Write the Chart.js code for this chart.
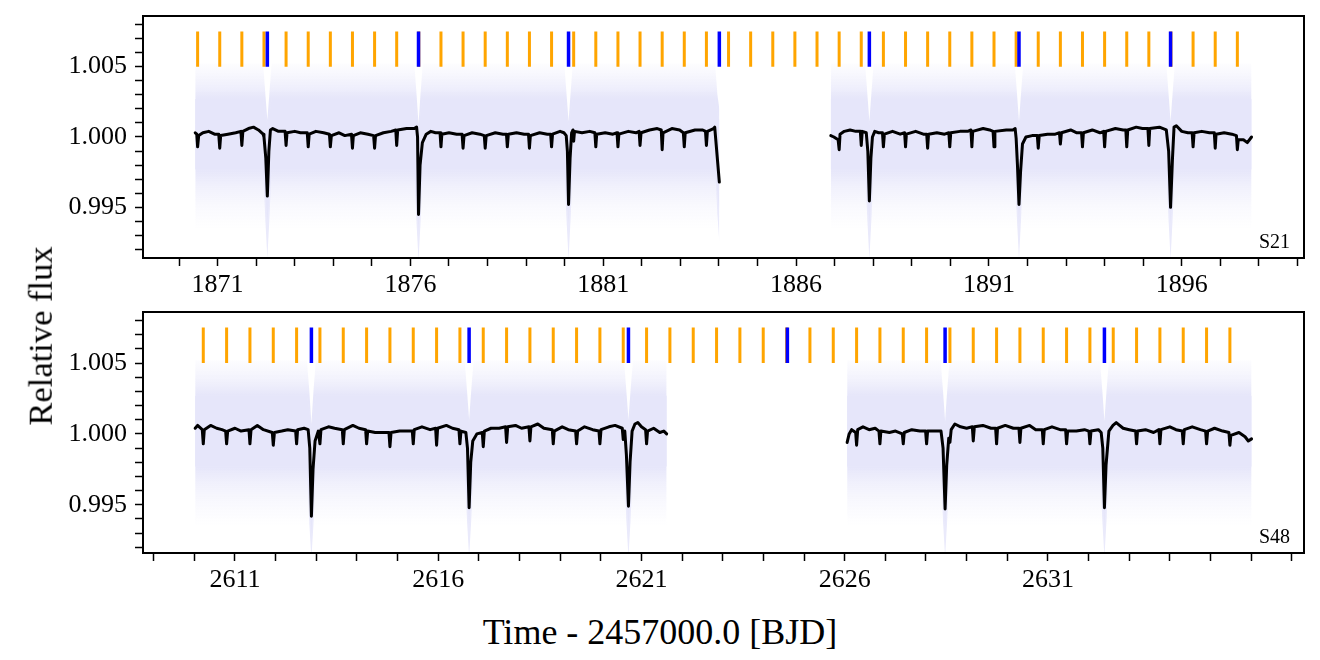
<!DOCTYPE html>
<html>
<head>
<meta charset="utf-8">
<script src="https://cdn.jsdelivr.net/npm/chart.js@4.4.1/dist/chart.umd.min.js"></script>
<style>
  body { margin: 0; background: #fff; width: 1320px; height: 660px; overflow: hidden; position: relative; font-family: "Liberation Serif", serif; }
  .panel { position: absolute; left: 0; width: 1320px; height: 300px; }
  #yTitle { position: absolute; left: 40px; top: 336px; font-size: 34.5px; line-height: 1; white-space: nowrap; transform: translate(-50%, -50%) rotate(-90deg); }
  #xTitle { position: absolute; left: 660px; top: 632px; font-size: 36px; line-height: 1; white-space: nowrap; transform: translate(-50%, -50%); }
</style>
</head>
<body>
<div class="panel" style="top:0"><canvas id="chartS21" width="1320" height="300"></canvas></div>
<div class="panel" style="top:296px"><canvas id="chartS48" width="1320" height="300"></canvas></div>
<div id="yTitle">Relative flux</div>
<div id="xTitle">Time - 2457000.0 [BJD]</div>
<script>
// ---- axes ----
const xTicksS21 = [1870,1871,1872,1873,1874,1875,1876,1877,1878,1879,1880,1881,1882,1883,1884,1885,1886,1887,1888,1889,1890,1891,1892,1893,1894,1895,1896,1897,1898,1899];
const xLabelsS21 = [1871, 1876, 1881, 1886, 1891, 1896];
const xTicksS48 = [2609,2610,2611,2612,2613,2614,2615,2616,2617,2618,2619,2620,2621,2622,2623,2624,2625,2626,2627,2628,2629,2630,2631,2632,2633,2634,2635,2636,2637];
const xLabelsS48 = [2611, 2616, 2621, 2626, 2631];
const yTicks = [0.992,0.993,0.994,0.995,0.996,0.997,0.998,0.999,1.000,1.001,1.002,1.003,1.004,1.005,1.006,1.007,1.008];
const yLabels = [0.995, 1.000, 1.005];

// ---- transit marks ----
const markLow = 1.005, markHigh = 1.0075;
const orangeS21 = [1870.482,1871.056,1871.629,1872.203,1872.776,1873.350,1873.924,1874.497,1875.071,1875.644,1876.218,1876.792,1877.365,1877.939,1878.513,1879.086,1879.660,1880.233,1880.807,1881.381,1881.954,1882.528,1883.101,1883.675,1884.249,1884.822,1885.396,1885.969,1886.543,1887.117,1887.690,1888.264,1888.838,1889.411,1889.985,1890.558,1891.132,1891.706,1892.279,1892.853,1893.426,1894.000,1894.574,1895.147,1895.721,1896.294,1896.868,1897.442];
const blueS21 = [1872.29, 1876.21, 1880.10, 1884.01, 1887.90, 1891.78, 1895.71];
const orangeS48 = [2610.220,2610.794,2611.368,2611.942,2612.516,2613.090,2613.664,2614.238,2614.812,2615.386,2615.960,2616.534,2617.108,2617.682,2618.256,2618.830,2619.404,2619.978,2620.552,2621.126,2621.700,2622.274,2622.848,2623.422,2623.996,2624.571,2625.145,2625.719,2626.293,2626.867,2627.441,2628.015,2628.589,2629.163,2629.737,2630.311,2630.885,2631.459,2632.033,2632.607,2633.181,2633.755,2634.329,2634.903,2635.477];
const blueS48 = [2612.88, 2616.76, 2620.68, 2624.59, 2628.47, 2632.39];

// ---- data scatter envelope: [time, haloLo, tailLo, coreLo, coreHi, tailHi, haloHi] ----
const bandS21a = [
  [1870.42, 0.9935, 0.9977, 0.9977, 1.0027, 1.0027, 1.0052],
  [1872.18, 0.9935, 0.9977, 0.9977, 1.0027, 1.0027, 1.0052],
  [1872.24, 0.9930, 0.9940, 0.9958, 1.0016, 1.0016, 1.0030],
  [1872.29, 0.9914, 0.9914, 0.9940, 1.0009, 1.0009, 1.0012],
  [1872.34, 0.9930, 0.9940, 0.9958, 1.0016, 1.0016, 1.0030],
  [1872.40, 0.9935, 0.9977, 0.9977, 1.0027, 1.0027, 1.0052],
  [1876.10, 0.9935, 0.9977, 0.9977, 1.0027, 1.0027, 1.0052],
  [1876.16, 0.9930, 0.9938, 0.9956, 1.0016, 1.0016, 1.0030],
  [1876.21, 0.9912, 0.9912, 0.9933, 1.0006, 1.0006, 1.0009],
  [1876.26, 0.9930, 0.9938, 0.9956, 1.0016, 1.0016, 1.0030],
  [1876.32, 0.9935, 0.9977, 0.9977, 1.0027, 1.0027, 1.0052],
  [1879.99, 0.9935, 0.9977, 0.9977, 1.0027, 1.0027, 1.0052],
  [1880.05, 0.9930, 0.9940, 0.9958, 1.0016, 1.0016, 1.0030],
  [1880.10, 0.9913, 0.9913, 0.9938, 1.0008, 1.0008, 1.0011],
  [1880.15, 0.9930, 0.9940, 0.9958, 1.0016, 1.0016, 1.0030],
  [1880.21, 0.9935, 0.9977, 0.9977, 1.0027, 1.0027, 1.0052],
  [1883.90, 0.9935, 0.9977, 0.9977, 1.0027, 1.0027, 1.0052],
  [1883.96, 0.9930, 0.9945, 0.9960, 1.0016, 1.0016, 1.0030],
  [1884.01, 0.9922, 0.9925, 0.9948, 1.0012, 1.0012, 1.0020]
];
const bandS21b = [
  [1886.90, 0.9935, 0.9977, 0.9977, 1.0027, 1.0027, 1.0052],
  [1887.79, 0.9935, 0.9977, 0.9977, 1.0027, 1.0027, 1.0052],
  [1887.85, 0.9930, 0.9940, 0.9958, 1.0016, 1.0016, 1.0030],
  [1887.90, 0.9913, 0.9913, 0.9938, 1.0008, 1.0008, 1.0011],
  [1887.95, 0.9930, 0.9940, 0.9958, 1.0016, 1.0016, 1.0030],
  [1888.01, 0.9935, 0.9977, 0.9977, 1.0027, 1.0027, 1.0052],
  [1891.67, 0.9935, 0.9977, 0.9977, 1.0027, 1.0027, 1.0052],
  [1891.73, 0.9930, 0.9940, 0.9958, 1.0016, 1.0016, 1.0030],
  [1891.78, 0.9913, 0.9913, 0.9938, 1.0008, 1.0008, 1.0011],
  [1891.83, 0.9930, 0.9940, 0.9958, 1.0016, 1.0016, 1.0030],
  [1891.89, 0.9935, 0.9977, 0.9977, 1.0027, 1.0027, 1.0052],
  [1895.60, 0.9935, 0.9977, 0.9977, 1.0027, 1.0027, 1.0052],
  [1895.66, 0.9930, 0.9940, 0.9958, 1.0016, 1.0016, 1.0030],
  [1895.71, 0.9913, 0.9913, 0.9938, 1.0008, 1.0008, 1.0011],
  [1895.76, 0.9930, 0.9940, 0.9958, 1.0016, 1.0016, 1.0030],
  [1895.82, 0.9935, 0.9977, 0.9977, 1.0027, 1.0027, 1.0052],
  [1897.81, 0.9935, 0.9977, 0.9977, 1.0027, 1.0027, 1.0052]
];
const bandS48a = [
  [2610.02, 0.9935, 0.9977, 0.9977, 1.0027, 1.0027, 1.0052],
  [2612.77, 0.9935, 0.9977, 0.9977, 1.0027, 1.0027, 1.0052],
  [2612.83, 0.9930, 0.9936, 0.9955, 1.0016, 1.0016, 1.0030],
  [2612.88, 0.9912, 0.9912, 0.9930, 1.0004, 1.0004, 1.0007],
  [2612.93, 0.9930, 0.9936, 0.9955, 1.0016, 1.0016, 1.0030],
  [2612.99, 0.9935, 0.9977, 0.9977, 1.0027, 1.0027, 1.0052],
  [2616.65, 0.9935, 0.9977, 0.9977, 1.0027, 1.0027, 1.0052],
  [2616.71, 0.9930, 0.9938, 0.9956, 1.0016, 1.0016, 1.0030],
  [2616.76, 0.9913, 0.9913, 0.9935, 1.0007, 1.0007, 1.0010],
  [2616.81, 0.9930, 0.9938, 0.9956, 1.0016, 1.0016, 1.0030],
  [2616.87, 0.9935, 0.9977, 0.9977, 1.0027, 1.0027, 1.0052],
  [2620.57, 0.9935, 0.9977, 0.9977, 1.0027, 1.0027, 1.0052],
  [2620.63, 0.9930, 0.9938, 0.9956, 1.0016, 1.0016, 1.0030],
  [2620.68, 0.9913, 0.9913, 0.9935, 1.0007, 1.0007, 1.0010],
  [2620.73, 0.9930, 0.9938, 0.9956, 1.0016, 1.0016, 1.0030],
  [2620.79, 0.9935, 0.9977, 0.9977, 1.0027, 1.0027, 1.0052],
  [2621.62, 0.9935, 0.9977, 0.9977, 1.0027, 1.0027, 1.0052]
];
const bandS48b = [
  [2626.06, 0.9935, 0.9977, 0.9977, 1.0027, 1.0027, 1.0052],
  [2628.36, 0.9935, 0.9977, 0.9977, 1.0027, 1.0027, 1.0052],
  [2628.42, 0.9930, 0.9938, 0.9956, 1.0016, 1.0016, 1.0030],
  [2628.47, 0.9913, 0.9913, 0.9934, 1.0006, 1.0006, 1.0009],
  [2628.52, 0.9930, 0.9938, 0.9956, 1.0016, 1.0016, 1.0030],
  [2628.58, 0.9935, 0.9977, 0.9977, 1.0027, 1.0027, 1.0052],
  [2632.28, 0.9935, 0.9977, 0.9977, 1.0027, 1.0027, 1.0052],
  [2632.34, 0.9930, 0.9938, 0.9956, 1.0016, 1.0016, 1.0030],
  [2632.39, 0.9913, 0.9913, 0.9934, 1.0006, 1.0006, 1.0009],
  [2632.44, 0.9930, 0.9938, 0.9956, 1.0016, 1.0016, 1.0030],
  [2632.50, 0.9935, 0.9977, 0.9977, 1.0027, 1.0027, 1.0052],
  [2636.01, 0.9935, 0.9977, 0.9977, 1.0027, 1.0027, 1.0052]
];
// halo fade: [flux, opacity of lavender]
const haloStops = [[1.0055, 0], [1.0046, 0.25], [1.0036, 0.6], [1.0027, 1], [0.9977, 1], [0.9966, 0.6], [0.9952, 0.25], [0.9935, 0]];

// ---- model (black line): [time, flux] ----
const modelS21a = [
  [1870.42,1.0003],[1870.46,1.0002],[1870.482,0.9993],[1870.51,1.0001],[1870.62,1.0003],[1870.77,1.0004],[1870.92,1.0002],
  [1871.03,1.0002],[1871.056,0.9992],[1871.08,1.0001],[1871.27,1.0002],[1871.47,1.0003],[1871.605,1.0004],[1871.629,0.9994],
  [1871.655,1.0004],[1871.80,1.0006],[1871.93,1.0007],[1872.06,1.0005],[1872.18,1.0002],[1872.203,1.0000],[1872.25,0.9985],
  [1872.29,0.9958],[1872.33,0.9990],[1872.37,1.0005],[1872.43,1.0006],[1872.58,1.0004],[1872.75,1.0004],[1872.776,0.9994],
  [1872.80,1.0003],[1873.00,1.0004],[1873.15,1.0003],[1873.325,1.0003],[1873.350,0.9993],[1873.375,1.0002],[1873.55,1.0004],
  [1873.75,1.0003],[1873.90,1.0002],[1873.924,0.9993],[1873.95,1.0001],[1874.15,1.0003],[1874.30,1.0001],[1874.472,1.0002],
  [1874.497,0.9992],[1874.52,1.0001],[1874.70,1.0003],[1874.90,1.0002],[1875.046,1.0001],[1875.071,0.9992],[1875.095,1.0001],
  [1875.30,1.0003],[1875.50,1.0004],[1875.62,1.0005],[1875.644,0.9994],[1875.67,1.0005],[1875.90,1.0006],[1876.10,1.0006],
  [1876.16,1.0007],[1876.185,1.0000],[1876.21,0.9945],[1876.25,0.9980],[1876.31,0.9996],[1876.41,1.0002],[1876.53,1.0004],
  [1876.65,1.0003],[1876.768,1.0003],[1876.792,0.9993],[1876.815,1.0002],[1877.00,1.0003],[1877.20,1.0002],[1877.34,1.0002],
  [1877.365,0.9992],[1877.39,1.0001],[1877.60,1.0003],[1877.80,1.0002],[1877.915,1.0001],[1877.939,0.9992],[1877.965,1.0001],
  [1878.20,1.0003],[1878.40,1.0002],[1878.49,1.0002],[1878.513,0.9993],[1878.54,1.0002],[1878.75,1.0003],[1878.95,1.0002],
  [1879.062,1.0002],[1879.086,0.9992],[1879.11,1.0001],[1879.35,1.0003],[1879.55,1.0002],[1879.636,1.0002],[1879.660,0.9993],
  [1879.685,1.0002],[1879.88,1.0004],[1879.98,1.0003],[1880.04,1.0001],[1880.07,0.9990],[1880.10,0.9952],[1880.14,0.9985],
  [1880.18,1.0003],[1880.215,1.0005],[1880.233,0.9997],[1880.255,1.0004],[1880.45,1.0003],[1880.65,1.0004],[1880.783,1.0003],
  [1880.807,0.9993],[1880.83,1.0002],[1881.05,1.0003],[1881.25,1.0002],[1881.357,1.0003],[1881.381,0.9993],[1881.405,1.0002],
  [1881.65,1.0004],[1881.85,1.0003],[1881.93,1.0004],[1881.954,0.9994],[1881.98,1.0003],[1882.20,1.0005],[1882.40,1.0006],
  [1882.504,1.0005],[1882.528,0.9991],[1882.55,1.0003],[1882.78,1.0006],[1882.98,1.0005],[1883.077,1.0003],[1883.101,0.9993],
  [1883.125,1.0003],[1883.38,1.0005],[1883.58,1.0005],[1883.651,1.0004],[1883.675,0.9994],[1883.70,1.0004],[1883.86,1.0006],
  [1883.89,1.0007],[1884.01,0.9968]
];
const modelS21b = [
  [1886.90,1.0001],[1886.98,1.0000],[1887.09,0.9998],[1887.117,0.9991],[1887.14,1.0002],[1887.25,1.0004],[1887.40,1.0005],
  [1887.55,1.0004],[1887.666,1.0004],[1887.690,0.9994],[1887.715,1.0004],[1887.82,1.0003],[1887.86,0.9990],[1887.90,0.99545],
  [1887.94,0.9985],[1887.98,1.0000],[1888.04,1.0004],[1888.14,1.0003],[1888.24,1.0003],[1888.264,0.9993],[1888.29,1.0002],
  [1888.50,1.0004],[1888.70,1.0002],[1888.814,1.0003],[1888.838,0.9993],[1888.86,1.0002],[1889.10,1.0004],[1889.30,1.0002],
  [1889.387,1.0002],[1889.411,0.9992],[1889.435,1.0002],[1889.65,1.0003],[1889.85,1.0002],[1889.961,1.0003],[1889.985,0.9993],
  [1890.01,1.0003],[1890.25,1.0004],[1890.45,1.0004],[1890.534,1.0005],[1890.558,0.9993],[1890.58,1.0004],[1890.85,1.0006],
  [1891.02,1.0005],[1891.108,1.0004],[1891.132,0.9993],[1891.155,1.0004],[1891.45,1.0005],[1891.62,1.0005],[1891.68,1.0006],
  [1891.706,0.9999],[1891.74,0.9980],[1891.78,0.9952],[1891.82,0.9975],[1891.87,0.9995],[1891.96,1.0000],[1892.12,1.0001],
  [1892.255,1.0001],[1892.279,0.9992],[1892.305,1.0001],[1892.52,1.0002],[1892.72,1.0002],[1892.829,1.0003],[1892.853,0.9995],
  [1892.88,1.0003],[1893.12,1.0005],[1893.28,1.0003],[1893.402,1.0003],[1893.426,0.9993],[1893.45,1.0003],[1893.68,1.0005],
  [1893.88,1.0003],[1893.976,1.0004],[1894.000,0.9993],[1894.025,1.0004],[1894.28,1.0006],[1894.48,1.0005],[1894.55,1.0005],
  [1894.574,0.9993],[1894.60,1.0005],[1894.82,1.0007],[1894.98,1.0006],[1895.123,1.0006],[1895.147,0.9994],[1895.17,1.0006],
  [1895.42,1.0007],[1895.60,1.0005],[1895.66,0.9990],[1895.71,0.9950],[1895.76,0.9985],[1895.80,1.0007],[1895.86,1.0008],
  [1896.00,1.0004],[1896.16,1.0003],[1896.27,1.0003],[1896.294,0.9993],[1896.32,1.0003],[1896.52,1.0004],[1896.72,1.0003],
  [1896.844,1.0003],[1896.868,0.9992],[1896.89,1.0002],[1897.10,1.0003],[1897.30,1.0002],[1897.418,1.0001],[1897.442,0.9991],
  [1897.465,0.9998],[1897.60,0.9998],[1897.70,0.9996],[1897.81,1.0000]
];
const modelS48a = [
  [2610.02,1.0004],[2610.08,1.0006],[2610.195,1.0003],[2610.220,0.9993],[2610.245,1.0003],[2610.40,1.0006],[2610.55,1.0004],
  [2610.68,1.0003],[2610.77,1.0002],[2610.794,0.9993],[2610.82,1.0002],[2611.00,1.0004],[2611.15,1.0002],[2611.344,1.0003],
  [2611.368,0.9993],[2611.395,1.0003],[2611.55,1.0006],[2611.70,1.0003],[2611.918,1.0001],[2611.942,0.9992],[2611.97,1.0001],
  [2612.15,1.0002],[2612.30,1.0003],[2612.492,1.0002],[2612.516,0.9993],[2612.54,1.0003],[2612.70,1.0004],[2612.80,1.0003],
  [2612.84,0.9990],[2612.88,0.9942],[2612.92,0.9975],[2612.97,0.9995],[2613.05,1.0002],[2613.090,0.9993],[2613.115,1.0003],
  [2613.30,1.0005],[2613.45,1.0004],[2613.64,1.0003],[2613.664,0.9993],[2613.69,1.0003],[2613.90,1.0006],[2614.05,1.0004],
  [2614.214,1.0003],[2614.238,0.9993],[2614.265,1.0002],[2614.45,1.0001],[2614.65,1.0001],[2614.788,1.0001],[2614.812,0.9991],
  [2614.84,1.0001],[2615.05,1.0002],[2615.20,1.0002],[2615.362,1.0002],[2615.386,0.9993],[2615.41,1.0003],[2615.60,1.0005],
  [2615.80,1.0003],[2615.936,1.0004],[2615.960,0.9992],[2615.985,1.0004],[2616.20,1.0006],[2616.35,1.0004],[2616.51,1.0003],
  [2616.534,0.9993],[2616.56,1.0002],[2616.68,1.0001],[2616.72,0.9990],[2616.76,0.9948],[2616.80,0.9980],[2616.85,0.9995],
  [2616.95,1.0000],[2617.084,1.0001],[2617.108,0.9991],[2617.135,1.0002],[2617.30,1.0004],[2617.50,1.0004],[2617.658,1.0005],
  [2617.682,0.9994],[2617.71,1.0005],[2617.90,1.0006],[2618.05,1.0004],[2618.232,1.0005],[2618.256,0.9995],[2618.28,1.0005],
  [2618.45,1.0007],[2618.60,1.0004],[2618.806,1.0003],[2618.830,0.9993],[2618.855,1.0002],[2619.05,1.0005],[2619.20,1.0003],
  [2619.38,1.0002],[2619.404,0.9993],[2619.43,1.0002],[2619.60,1.0005],[2619.80,1.0003],[2619.954,1.0002],[2619.978,0.9993],
  [2620.005,1.0003],[2620.20,1.0005],[2620.35,1.0006],[2620.528,1.0004],[2620.552,0.9996],[2620.59,1.0002],[2620.63,0.9985],
  [2620.68,0.9949],[2620.72,0.9980],[2620.77,1.0002],[2620.84,1.0007],[2620.91,1.0008],[2621.00,1.0005],[2621.102,1.0003],
  [2621.126,0.9993],[2621.15,1.0002],[2621.30,1.0004],[2621.45,1.0001],[2621.55,1.0002],[2621.62,1.0000]
];
const modelS48b = [
  [2626.06,0.9994],[2626.11,1.0000],[2626.17,1.0003],[2626.27,1.0001],[2626.293,0.9992],[2626.32,1.0003],[2626.45,1.0005],
  [2626.60,1.0003],[2626.75,1.0004],[2626.843,1.0002],[2626.867,0.9993],[2626.89,1.0002],[2627.10,1.0001],[2627.25,1.0002],
  [2627.417,1.0000],[2627.441,0.9993],[2627.465,1.0001],[2627.65,1.0003],[2627.85,1.0002],[2627.99,1.0002],[2628.015,0.9993],
  [2628.04,1.0002],[2628.24,1.0002],[2628.37,1.0002],[2628.42,0.9990],[2628.47,0.9947],[2628.51,0.9978],[2628.56,0.9997],
  [2628.589,0.9994],[2628.62,1.0003],[2628.71,1.0007],[2628.85,1.0005],[2629.00,1.0004],[2629.14,1.0005],[2629.163,0.9995],
  [2629.19,1.0005],[2629.40,1.0006],[2629.60,1.0004],[2629.713,1.0004],[2629.737,0.9993],[2629.76,1.0004],[2629.95,1.0006],
  [2630.15,1.0004],[2630.287,1.0004],[2630.311,0.9994],[2630.335,1.0004],[2630.55,1.0006],[2630.70,1.0003],[2630.861,1.0003],
  [2630.885,0.9993],[2630.91,1.0003],[2631.10,1.0005],[2631.30,1.0003],[2631.435,1.0003],[2631.459,0.9993],[2631.485,1.0002],
  [2631.70,1.0002],[2631.90,1.0003],[2632.009,1.0002],[2632.033,0.9993],[2632.06,1.0002],[2632.24,1.0003],[2632.31,1.0001],
  [2632.35,0.9990],[2632.39,0.9948],[2632.43,0.9978],[2632.50,1.0002],[2632.60,1.0006],[2632.68,1.0008],[2632.85,1.0004],
  [2633.00,1.0003],[2633.157,1.0002],[2633.181,0.9993],[2633.205,1.0002],[2633.40,1.0003],[2633.60,1.0001],[2633.731,1.0003],
  [2633.755,0.9993],[2633.78,1.0003],[2634.00,1.0005],[2634.15,1.0003],[2634.305,1.0002],[2634.329,0.9993],[2634.355,1.0003],
  [2634.55,1.0005],[2634.75,1.0003],[2634.879,1.0002],[2634.903,0.9993],[2634.93,1.0002],[2635.10,1.0004],[2635.30,1.0002],
  [2635.453,1.0001],[2635.477,0.9992],[2635.50,0.9999],[2635.70,1.0001],[2635.85,0.9998],[2635.93,0.9995],[2636.01,0.99965]
];

const FONT = '"Liberation Serif", "Times New Roman", serif';
const LAV = [230, 230, 250];

// box round the plot area + sector name in the corner
const framePlugin = {
  id: 'frame',
  afterDraw(chart, args, opts) {
    const { ctx, chartArea: a } = chart;
    ctx.save();
    ctx.strokeStyle = '#000';
    ctx.lineWidth = 2;
    ctx.strokeRect(a.left, a.top, a.right - a.left, a.bottom - a.top);
    ctx.fillStyle = '#000';
    ctx.font = '20px ' + FONT;
    ctx.textAlign = 'right';
    ctx.textBaseline = 'alphabetic';
    ctx.fillText(opts.text, a.right - 14, a.bottom - 10);
    ctx.restore();
  }
};

function haloFill(c) {
  const ch = c.chart;
  if (!ch.chartArea) return 'rgb(230,230,250)';
  const y = ch.scales.y;
  const top = y.getPixelForValue(haloStops[0][0]);
  const bot = y.getPixelForValue(haloStops[haloStops.length - 1][0]);
  const g = ch.ctx.createLinearGradient(0, top, 0, bot);
  haloStops.forEach(([v, a]) => {
    g.addColorStop((y.getPixelForValue(v) - top) / (bot - top), `rgba(${LAV[0]},${LAV[1]},${LAV[2]},${a})`);
  });
  return g;
}

function bandSets(rows) {
  const out = [];
  const layers = [[1, 6, haloFill, 5], [2, 5, 'rgb(234,234,251)', 4], [3, 4, 'rgb(230,230,250)', 3]];
  layers.forEach(([lo, hi, color, order]) => {
    out.push({ data: rows.map(r => ({ x: r[0], y: r[hi] })), fill: '+1', backgroundColor: color,
      borderColor: 'rgba(0,0,0,0)', borderWidth: 0, pointRadius: 0, order });
    out.push({ data: rows.map(r => ({ x: r[0], y: r[lo] })), fill: false,
      borderColor: 'rgba(0,0,0,0)', borderWidth: 0, pointRadius: 0, order });
  });
  return out;
}

function markSet(times, color, width, order) {
  const d = [];
  times.forEach(t => d.push({ x: t, y: markLow }, { x: t, y: markHigh }, { x: t, y: null }));
  return { data: d, borderColor: color, borderWidth: width, pointRadius: 0, fill: false, spanGaps: false, order, borderCapStyle: 'butt' };
}

function modelSet(pts) {
  return { data: pts.map(p => ({ x: p[0], y: p[1] })), borderColor: '#000', borderWidth: 3,
    pointRadius: 0, fill: false, tension: 0, order: 0, borderJoinStyle: 'round', borderCapStyle: 'round' };
}

function makePanel(id, cfg) {
  const datasets = [];
  cfg.bands.forEach(b => datasets.push(...bandSets(b)));
  datasets.push(markSet(cfg.orange, '#ffa500', 3, 2));
  datasets.push(markSet(cfg.blue, '#0000ff', 3.5, 1));
  cfg.models.forEach(m => datasets.push(modelSet(m)));

  return new Chart(document.getElementById(id), {
    type: 'line',
    data: { datasets },
    plugins: [framePlugin],
    options: {
      responsive: false,
      animation: false,
      layout: { padding: { top: cfg.padTop, right: 16, left: 0, bottom: 0 } },
      plugins: { legend: { display: false }, tooltip: { enabled: false }, frame: { text: cfg.sector } },
      scales: {
        x: {
          type: 'linear', min: cfg.xMin, max: cfg.xMax,
          border: { display: false },
          grid: { display: true, drawOnChartArea: false, drawTicks: true, tickLength: 8, tickWidth: 1.5, tickColor: '#000' },
          ticks: { autoSkip: false, maxRotation: 0, padding: 4, color: '#000', font: { family: FONT, size: 26 },
            callback: v => cfg.xLabels.includes(v) ? String(v) : '' },
          afterBuildTicks: s => { s.ticks = cfg.xTicks.map(v => ({ value: v })); },
          afterFit: s => { s.height = cfg.xAxisHeight; s.paddingLeft = 0; s.paddingRight = 0; }
        },
        y: {
          type: 'linear', min: cfg.yMin, max: cfg.yMax,
          border: { display: false },
          grid: { display: true, drawOnChartArea: false, drawTicks: true, tickLength: 8, tickWidth: 1.5, tickColor: '#000' },
          ticks: { autoSkip: false, padding: 8, color: '#000', font: { family: FONT, size: 26 },
            callback: v => yLabels.some(l => Math.abs(l - v) < 1e-7) ? v.toFixed(3) : '' },
          afterBuildTicks: s => { s.ticks = yTicks.map(v => ({ value: v })); },
          afterFit: s => { s.width = 143; s.paddingTop = 0; s.paddingBottom = 0; }
        }
      }
    }
  });
}

makePanel('chartS21', {
  xMin: 1869.066, xMax: 1899.17, yMin: 0.9914, yMax: 1.0086,
  xTicks: xTicksS21, xLabels: xLabelsS21, padTop: 16, xAxisHeight: 42,
  bands: [bandS21a, bandS21b], models: [modelS21a, modelS21b],
  orange: orangeS21, blue: blueS21, sector: 'S21'
});

makePanel('chartS48', {
  xMin: 2608.737, xMax: 2637.30, yMin: 0.9916, yMax: 1.0086,
  xTicks: xTicksS48, xLabels: xLabelsS48, padTop: 16, xAxisHeight: 43,
  bands: [bandS48a, bandS48b], models: [modelS48a, modelS48b],
  orange: orangeS48, blue: blueS48, sector: 'S48'
});
</script>
</body>
</html>
